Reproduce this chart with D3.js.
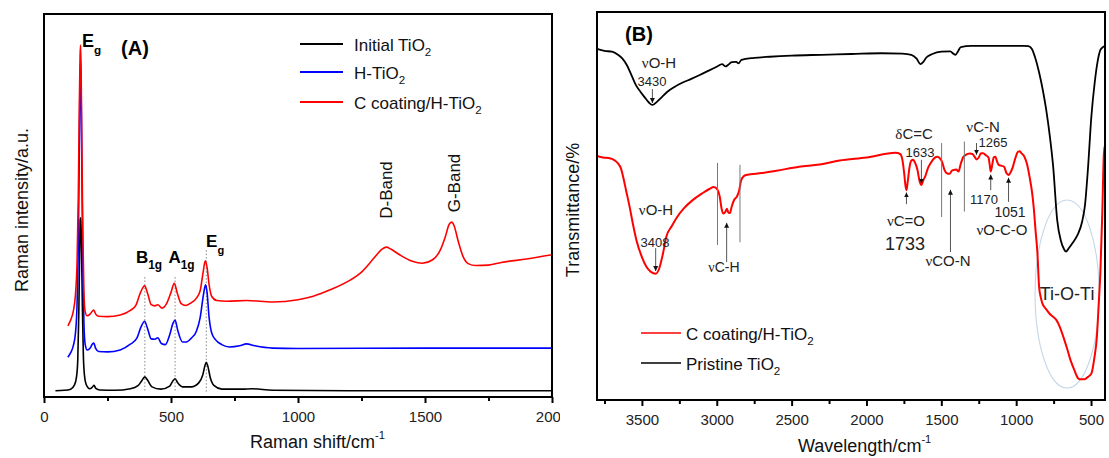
<!DOCTYPE html>
<html>
<head>
<meta charset="utf-8">
<script src="https://cdn.jsdelivr.net/npm/d3@7"></script>
<style>
  body { margin: 0; background: #fff; }
  svg { display: block; }
  text { font-family: "Liberation Sans", Arial, Helvetica, sans-serif; }
</style>
</head>
<body>
<svg id="fig" width="1109" height="458"></svg>
<script>
// ---------- Panel A: Raman spectra, [shift cm-1, intensity a.u.] ----------
const ramanInitial = [
  [45,1.9],[80,2.0],[105,2.3],[120,3.4],[128,5.5],[133,10],[137,22],[140,36],[143,46.5],[145,46.9],
  [148,38],[151,24],[155,11],[160,5.5],[168,3.2],[180,2.4],[190,2.8],[197,3.3],[204,2.5],[220,2.1],
  [280,2.0],[340,2.4],[370,3.2],[385,4.5],[397,5.5],[408,4.6],[425,2.9],[460,2.3],[495,3.1],[508,4.5],
  [516,5.0],[526,4.0],[545,2.9],[580,2.9],[610,4.0],[625,6.0],[634,8.5],[639,9.3],[645,8.3],[655,5.2],
  [670,3.2],[700,2.3],[780,2.3],[820,2.4],[900,2.0],[1200,1.9],[1600,1.9],[2000,1.9]
];
const ramanHydro = [
  [94,10.6],[105,11.8],[115,13.5],[124,17],[130,24],[135,40],[139,65],[142,84],[144,87.5],[146,82],
  [149,60],[153,35],[157,20],[162,14],[170,12.5],[182,13.0],[190,14.0],[196,14.3],[203,13.0],[215,12.1],
  [250,12.0],[300,12.5],[340,14.0],[365,15.5],[382,18.5],[396,20.0],[408,18.0],[422,15.4],[437,15.3],
  [448,15.7],[462,14.2],[478,13.9],[495,16.5],[508,19.5],[516,20.3],[527,17.5],[545,14.6],[560,14.6],
  [580,15.6],[600,17.4],[615,21],[628,27],[636,29.5],[642,27.5],[650,21],[660,17],[675,15.2],[700,13.9],
  [730,13.3],[770,13.6],[797,14.1],[830,13.6],[900,13.0],[1000,12.9],[1500,13.0],[2000,13.0]
];
const ramanCoated = [
  [94,18.8],[105,20.3],[115,22.5],[124,27],[130,35],[135,52],[139,76],[142,89],[144,91.9],[146,86],
  [149,66],[153,42],[157,28],[162,22.5],[170,21.4],[182,21.9],[190,22.6],[196,22.9],[203,21.9],[215,21.3],
  [250,21.2],[300,21.6],[340,22.8],[362,24.2],[380,27.5],[396,29.2],[408,27.2],[422,24.3],[437,24.0],
  [448,24.3],[465,23.4],[482,24.5],[500,27.5],[513,29.9],[524,27.5],[540,24.6],[558,24.1],[580,24.8],
  [600,26.0],[615,28],[627,33],[635,35.7],[642,34],[650,29.5],[660,26.5],[680,25.4],[720,25.2],[797,25.4],
  [900,25.0],[1000,25.6],[1060,26.5],[1124,28.1],[1200,30.5],[1250,32.8],[1300,36.5],[1330,38.7],
  [1348,39.3],[1365,38.8],[1400,37.3],[1450,35.6],[1490,35.1],[1530,36.0],[1560,38.5],[1580,42],
  [1595,45.2],[1605,45.8],[1615,44.8],[1630,41],[1650,36.8],[1670,35],[1700,34.5],[1750,34.6],
  [1800,35.3],[1900,36.2],[2000,37.3]
];
const ramanTicks = [0, 500, 1000, 1500, 2000];
const ramanMinorTicks = [250, 750, 1250, 1750];
const ramanModes = [397, 516, 639];

// ---------- Panel B: FTIR spectra, [wavenumber cm-1, transmittance] ----------
const ftirPristine = [
  [3800,90.5],[3750,90.0],[3700,89.8],[3660,89.0],[3630,88.0],[3600,86.3],[3570,83.8],[3540,81.2],
  [3510,79.5],[3480,78.0],[3455,76.8],[3430,76.1],[3400,76.9],[3370,78.0],[3330,79.5],[3280,80.8],
  [3231,81.8],[3170,82.8],[3114,83.8],[3050,85.0],[2997,86.0],[2965,86.6],[2940,86.0],[2925,86.4],
  [2900,87.1],[2870,87.2],[2855,86.8],[2835,87.7],[2750,88.2],[2647,88.5],[2500,88.8],[2300,89.0],
  [2100,89.2],[1900,89.4],[1760,89.3],[1700,89.0],[1665,88.0],[1640,86.6],[1620,87.2],[1600,88.3],
  [1560,89.2],[1500,89.8],[1440,89.9],[1420,89.3],[1405,89.0],[1390,89.8],[1370,91.0],[1300,91.3],
  [1100,91.3],[950,91.3],[918,91.2],[895,90.5],[875,88.5],[846,84.3],[820,79.5],[799,74.8],[775,68],
  [753,60.3],[726,46.5],[700,41.0],[680,39.0],[667,38.4],[650,39.2],[620,40.8],[590,42.7],[560,46.0],
  [540,50.5],[520,60],[498,73.0],[475,82],[455,87.5],[438,90.2],[420,91.0],[405,91.3]
];
const ftirCoated = [
  [3800,63.0],[3760,62.6],[3715,62.4],[3680,61.8],[3660,61.1],[3640,59.8],[3626,57.7],[3605,54],
  [3582,49.9],[3560,45.5],[3537,41.4],[3500,37.0],[3470,34.5],[3440,33.2],[3408,32.7],[3385,34],
  [3360,37.8],[3337,42.2],[3300,45.0],[3270,47.0],[3220,49.5],[3159,51.7],[3100,53.3],[3050,54.5],
  [3020,55.0],[2995,54.3],[2980,52.5],[2968,49.5],[2955,48.2],[2943,48.6],[2932,49.4],[2922,48.4],
  [2912,48.3],[2900,50.0],[2885,51.6],[2865,52.6],[2850,54.2],[2838,56.6],[2820,57.8],[2803,58.1],
  [2700,58.6],[2602,59.2],[2450,60.2],[2313,60.8],[2180,61.8],[2000,62.6],[1806,63.8],[1775,63.5],
  [1760,62.0],[1748,58.5],[1740,55.5],[1733,54.2],[1724,56.5],[1712,60.2],[1700,61.8],[1688,62.0],
  [1675,61.2],[1660,59.5],[1645,56.5],[1633,55.5],[1620,56.8],[1606,57.9],[1590,59.8],[1572,61.1],
  [1545,62.5],[1526,62.8],[1510,62.4],[1495,61.5],[1479,59.4],[1465,58.6],[1445,58.4],[1430,59.2],
  [1419,59.4],[1400,59.5],[1385,59.0],[1370,61.0],[1355,62.6],[1339,63.2],[1310,63.6],[1292,63.5],
  [1278,62.8],[1265,62.1],[1250,62.6],[1235,63.7],[1221,63.7],[1200,63.1],[1185,62.6],[1176,60.5],
  [1170,59.0],[1162,60.3],[1150,62.6],[1139,62.8],[1128,61.6],[1116,60.7],[1100,60.5],[1081,60.2],
  [1065,58.6],[1051,58.1],[1040,58.6],[1022,60.2],[1005,62.5],[987,64.1],[975,64.2],[965,63.7],
  [945,62.8],[929,61.1],[910,57.5],[893,53.4],[881,49.0],[871,44.0],[858,38.0],[847,29.4],[835,26.5],
  [825,25.1],[800,23.6],[778,22.5],[755,21.7],[731,20.8],[708,19.0],[685,16.5],[660,13.5],[637,10.5],
  [610,7.8],[590,6.0],[578,5.6],[544,5.6],[520,6.2],[497,7.1],[478,11],[461,16.5],[450,24],[437,33.7],
  [425,48],[414,63.7],[405,66]
];
const ftirTicks = [3500, 3000, 2500, 2000, 1500, 1000, 500];
const ftirMinorTicks = [3750, 3250, 2750, 2250, 1750, 1250, 750];

const FONT = '"Liberation Sans", Arial, Helvetica, sans-serif';
const SERIF = '"Liberation Serif", "Times New Roman", serif';
const svg = d3.select("#fig");
const defs = svg.append("defs");

// text made of segments: [string, baseline offset px, size factor, family]
function richText(parent, x, y, size, segs, attrs) {
  const t = parent.append("text").attr("x", x).attr("y", y).attr("font-size", size);
  Object.entries(attrs || {}).forEach(([k, v]) => t.attr(k, v));
  let shift = 0;
  segs.forEach(seg => {
    const [s, off = 0, sc = 1, fam] = Array.isArray(seg) ? seg : [seg];
    const ts = t.append("tspan").text(s).attr("dy", off - shift);
    shift = off;
    if (sc !== 1) ts.attr("font-size", size * sc);
    if (fam) ts.attr("font-family", fam);
  });
  return t;
}

function drawAxis(g, scale, y, major, minor, labelY) {
  const ax = g.append("g").attr("transform", `translate(0,${y})`)
    .call(d3.axisBottom(scale).tickValues(major).tickSize(6).tickFormat(d3.format("d")));
  ax.select(".domain").remove();
  ax.selectAll("line").attr("stroke", "#000").attr("stroke-width", 2);
  ax.selectAll("text").attr("y", labelY).attr("dy", 0)
    .attr("font-size", 15).attr("font-family", FONT).attr("fill", "#222");
  const mn = g.append("g").attr("transform", `translate(0,${y})`)
    .call(d3.axisBottom(scale).tickValues(minor).tickSize(4).tickFormat(""));
  mn.select(".domain").remove();
  mn.selectAll("line").attr("stroke", "#000").attr("stroke-width", 2);
}

// ================= Panel A =================
// the left figure is cut at its right margin
defs.append("clipPath").attr("id", "clipA")
  .append("rect").attr("x", 0).attr("y", 0).attr("width", 560).attr("height", 458);

const A = { left: 44, right: 552, top: 14, bottom: 397 };
const xA = d3.scaleLinear().domain([0, 2000]).range([A.left, A.right]);
const yA = d3.scaleLinear().domain([0, 100]).range([A.bottom + 1, A.top]);
const gA = svg.append("g").attr("clip-path", "url(#clipA)");

drawAxis(gA, xA, A.bottom, ramanTicks, ramanMinorTicks, 25);

const lineA = d3.line().x(d => xA(d[0])).y(d => yA(d[1])).curve(d3.curveMonotoneX);

// dotted guides under the anatase modes
const modeTop = [31.5, 31.5, 38.5];
gA.selectAll(".guide").data(ramanModes).join("line")
  .attr("x1", d => xA(d)).attr("x2", d => xA(d))
  .attr("y1", (d, i) => yA(modeTop[i])).attr("y2", yA(1.5))
  .attr("stroke", "#888").attr("stroke-width", 1).attr("stroke-dasharray", "1.5,2");

[[ramanInitial, "#000"], [ramanHydro, "#0000ff"], [ramanCoated, "#ff0000"]].forEach(([d, c]) => {
  gA.append("path").datum(d).attr("d", lineA).attr("fill", "none")
    .attr("stroke", c).attr("stroke-width", 1.6).attr("stroke-linejoin", "round");
});

gA.append("rect").attr("x", A.left).attr("y", A.top)
  .attr("width", A.right - A.left).attr("height", A.bottom - A.top)
  .attr("fill", "none").attr("stroke", "#000").attr("stroke-width", 2);

// mode labels
richText(gA, xA(150), yA(91.4), 18, [["E"], ["g", 7, 0.65]], { "font-weight": "bold" });
richText(gA, xA(362), yA(35.2), 17, [["B"], ["1g", 6, 0.7]], { "font-weight": "bold" });
richText(gA, xA(490), yA(35.2), 17, [["A"], ["1g", 6, 0.7]], { "font-weight": "bold" });
richText(gA, xA(638), yA(39.2), 17, [["E"], ["g", 7, 0.65]], { "font-weight": "bold" });
gA.append("text").attr("x", 135).attr("y", 55).attr("text-anchor", "middle")
  .attr("font-size", 20).attr("font-weight", "bold").text("(A)");

// carbon bands
[["D-Band", 392, 190], ["G-Band", 460, 183]].forEach(([t, bx, cy]) => {
  gA.append("text").attr("transform", `translate(${bx},${cy}) rotate(-90)`)
    .attr("text-anchor", "middle").attr("font-size", 17).attr("fill", "#111").text(t);
});

// legend
const legA = [["Initial TiO", "#000"], ["H-TiO", "#0000ff"], ["C coating/H-TiO", "#ff0000"]];
legA.forEach(([t, c], i) => {
  const y = [44, 72, 102][i];
  gA.append("line").attr("x1", 300).attr("x2", 343).attr("y1", y).attr("y2", y)
    .attr("stroke", c).attr("stroke-width", 2);
  richText(gA, 354, y + 6.5, 17, [[t], ["2", 5, 0.68]], { fill: "#111" });
});

// axis titles
richText(gA, 250, 448, 18, [["Raman shift/cm"], ["-1", -9, 0.62]], { fill: "#111" });
gA.append("text").attr("transform", "translate(28,210) rotate(-90)")
  .attr("text-anchor", "middle").attr("font-size", 18).attr("fill", "#111")
  .text("Raman intensity/a.u.");

// ================= Panel B =================
const B = { left: 597, right: 1105, top: 12, bottom: 400 };
const xB = d3.scaleLinear().domain([3800, 400]).range([B.left, B.right + 1]);
const yB = d3.scaleLinear().domain([0, 100]).range([B.bottom + 1, B.top]);
const gB = svg.append("g");

drawAxis(gB, xB, B.bottom, ftirTicks, ftirMinorTicks, 25);

// Ti-O-Ti region outline
gB.append("ellipse").attr("cx", xB(660)).attr("cy", yB(27.5)).attr("rx", 32).attr("ry", 94)
  .attr("fill", "none").attr("stroke", "#c3d6ea").attr("stroke-width", 1.1);

const lineB = d3.line().x(d => xB(d[0])).y(d => yB(d[1])).curve(d3.curveMonotoneX);
gB.append("path").datum(ftirPristine).attr("d", lineB).attr("fill", "none")
  .attr("stroke", "#000").attr("stroke-width", 1.8).attr("stroke-linejoin", "round");
gB.append("path").datum(ftirCoated).attr("d", lineB).attr("fill", "none")
  .attr("stroke", "#ff0000").attr("stroke-width", 2).attr("stroke-linejoin", "round");

gB.append("rect").attr("x", B.left).attr("y", B.top)
  .attr("width", B.right - B.left).attr("height", B.bottom - B.top)
  .attr("fill", "none").attr("stroke", "#000").attr("stroke-width", 2);

// arrow markers
defs.append("marker").attr("id", "head").attr("viewBox", "0 0 10 10")
  .attr("refX", 10).attr("refY", 5).attr("markerWidth", 5).attr("markerHeight", 7)
  .attr("markerUnits", "userSpaceOnUse").attr("orient", "auto")
  .append("path").attr("d", "M0,0 L10,5 L0,10 Z").attr("fill", "#111");

// peak arrows: [wavenumber, from, to]
const arrowsB = [
  [3430, 80.2, 76.6], [3408, 39.3, 33.4], [2934, 35.7, 45.8], [1733, 50.6, 53.6],
  [1633, 62.0, 55.9], [1439, 38.3, 54.3], [1265, 66.3, 63.3], [1170, 54.2, 58.2], [1051, 51.2, 57.4]
];
gB.selectAll(".arrow").data(arrowsB).join("line")
  .attr("x1", d => xB(d[0])).attr("x2", d => xB(d[0]))
  .attr("y1", d => yB(d[1])).attr("y2", d => yB(d[2]))
  .attr("stroke", "#555").attr("stroke-width", 1).attr("marker-end", "url(#head)");

// vertical guide bars: [wavenumber, top, bottom]
const barsB = [[2995, 61.2, 40.1], [2845, 60.7, 40.8], [1498, 66.3, 47.3], [1346, 66.7, 48.7]];
gB.selectAll(".bar").data(barsB).join("line")
  .attr("x1", d => xB(d[0])).attr("x2", d => xB(d[0]))
  .attr("y1", d => yB(d[1])).attr("y2", d => yB(d[2]))
  .attr("stroke", "#777").attr("stroke-width", 1);

// band labels: [segments, wavenumber, transmittance, size]
const NU = ["ν", 0, 1, SERIF], DELTA = ["δ", 0, 1, SERIF];
const labelsB = [
  [[NU, "O-H"], 3386, 85.6, 15], [["3430"], 3433, 80.9, 13],
  [[NU, "O-H"], 3406, 47.8, 15], [["3408"], 3413, 39.6, 13],
  [[NU, "C-H"], 2952, 33.2, 14],
  [[DELTA, "C=C"], 1682, 67.4, 15], [["1633"], 1642, 62.7, 13],
  [[NU, "C=O"], 1736, 45.0, 15], [["1733"], 1743, 38.8, 18],
  [[NU, "CO-N"], 1455, 34.7, 15],
  [[NU, "C-N"], 1221, 69.2, 15], [["1265"], 1155, 65.3, 13],
  [["1170"], 1215, 50.6, 13], [["1051"], 1041, 47.3, 14],
  [[NU, "O-C-O"], 1095, 42.6, 15], [["Ti-O-Ti"], 660, 26.0, 18]
];
labelsB.forEach(([segs, v, t, s]) => {
  richText(gB, xB(v), yB(t), s, segs, { "text-anchor": "middle", fill: "#222" });
});
gB.append("text").attr("x", 639).attr("y", 41).attr("text-anchor", "middle")
  .attr("font-size", 20).attr("font-weight", "bold").text("(B)");

// legend
[["C coating/H-TiO", "#ff0000", 333], ["Pristine TiO", "#000", 363]].forEach(([t, c, y]) => {
  gB.append("line").attr("x1", 641).attr("x2", 681).attr("y1", y).attr("y2", y)
    .attr("stroke", c).attr("stroke-width", 1.6);
  richText(gB, 686, y + 6.5, 17, [[t], ["2", 5, 0.68]], { fill: "#111" });
});

// axis titles
richText(gB, 798, 452, 18, [["Wavelength/cm"], ["-1", -9, 0.62]], { fill: "#111" });
gB.append("text").attr("transform", "translate(579,210) rotate(-90)")
  .attr("text-anchor", "middle").attr("font-size", 18).attr("fill", "#111")
  .text("Transmittance/%");
</script>
</body>
</html>
